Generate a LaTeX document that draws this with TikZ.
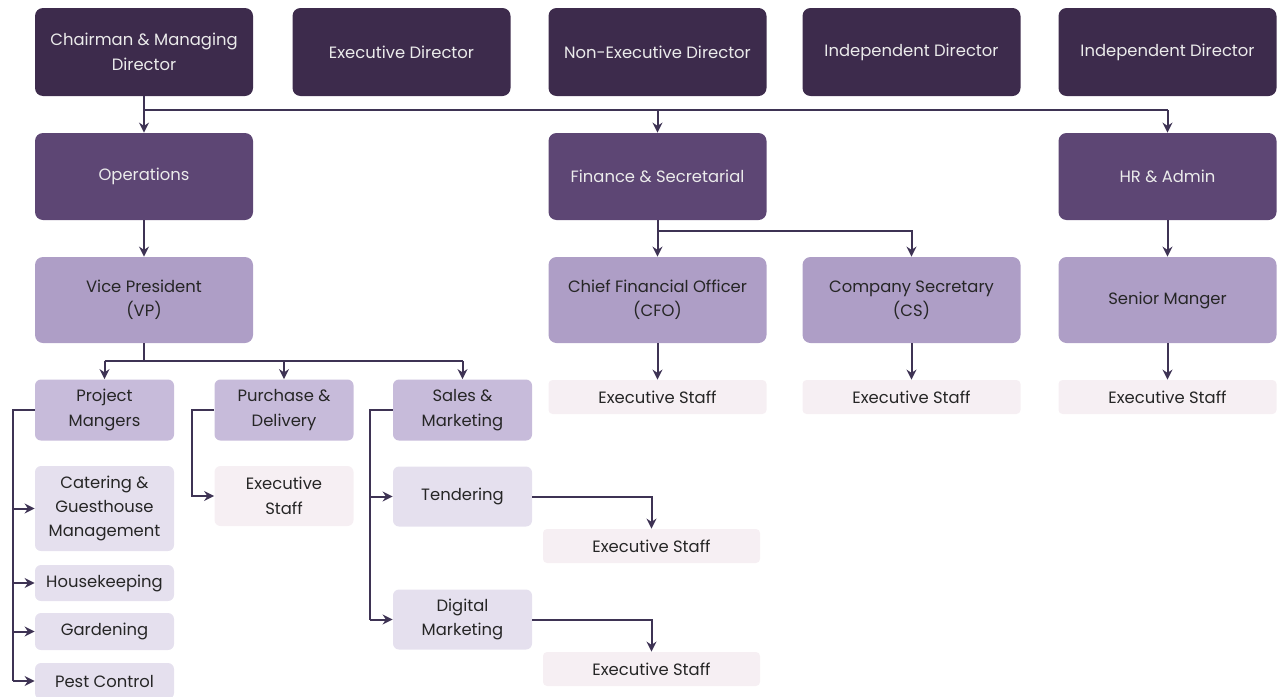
\documentclass[tikz,border=0pt]{standalone}
\usepackage{fontspec}
\setmainfont{Poppins}
\usetikzlibrary{arrows.meta}

\definecolor{board}{HTML}{3D2B4C}
\definecolor{dept}{HTML}{5D4674}
\definecolor{head}{HTML}{AE9EC6}
\definecolor{unit}{HTML}{C7BBDA}
\definecolor{sub}{HTML}{E5E0EE}
\definecolor{staff}{HTML}{F6EFF3}
\definecolor{wire}{HTML}{3E3354}

\begin{document}
\begin{tikzpicture}[
    x=0.5pt, y=-0.5pt,
    box/.style={rectangle, rounded corners=4pt, align=center, inner sep=2pt,
                font=\fontsize{8.2}{12.2}\selectfont, text=black!85},
    top/.style={box, fill=board, text=white!92!black, minimum width=109pt, minimum height=44pt},
    dep/.style={box, fill=dept, text=white!92!black, minimum width=109pt, minimum height=43.5pt},
    mgr/.style={box, fill=head, minimum width=109pt, minimum height=43pt},
    es/.style={box, fill=staff, rounded corners=2pt, minimum width=109pt, minimum height=17pt},
    grp/.style={box, fill=unit, rounded corners=3pt, minimum width=69.5pt, minimum height=30.5pt},
    leaf/.style={box, fill=sub, rounded corners=3pt, minimum width=69.5pt},
    line/.style={draw=wire, line width=1pt},
    arr/.style={line, -{Stealth[length=5pt,width=5pt]}},
  ]
  \useasboundingbox (0,0) rectangle (1277,696);

  % Board
  \node[top] (chair) at (144,52)    {Chairman \& Managing\\Director};
  \node[top] (exec)  at (401.5,52)  {Executive Director};
  \node[top] (nonex) at (657.5,52)  {Non-Executive Director};
  \node[top] (ind1)  at (911.5,52)  {Independent Director};
  \node[top] (ind2)  at (1167.5,52) {Independent Director};

  % Departments
  \node[dep] (ops) at (144,176.5)    {Operations};
  \node[dep] (fin) at (657.5,176.5)  {Finance \& Secretarial};
  \node[dep] (hr)  at (1167.5,176.5) {HR \& Admin};

  \coordinate (bus) at (0,110);
  \draw[line] (chair.south |- bus) -- (hr.north |- bus);
  \draw[arr] (chair) -- (ops);
  \draw[arr] (fin.north |- bus) -- (fin.north);
  \draw[arr] (hr.north |- bus) -- (hr.north);

  % Heads
  \node[mgr] (vp)  at (144,300)    {Vice President\\(VP)};
  \node[mgr] (cfo) at (657.5,300)  {Chief Financial Officer\\(CFO)};
  \node[mgr] (cs)  at (911.5,300)  {Company Secretary\\(CS)};
  \node[mgr] (sm)  at (1167.5,300) {Senior Manger};

  \draw[arr] (ops) -- (vp);
  \draw[arr] (fin) -- (cfo);
  \draw[arr] (fin.south |- 0,231) -| (cs.north);
  \draw[arr] (hr) -- (sm);

  % Executive staff under heads
  \node[es] (cfoes) at (657.5,397)  {Executive Staff};
  \node[es] (cses)  at (911.5,397)  {Executive Staff};
  \node[es] (smes)  at (1167.5,397) {Executive Staff};

  \draw[arr] (cfo) -- (cfoes);
  \draw[arr] (cs) -- (cses);
  \draw[arr] (sm) -- (smes);

  % Operations groups
  \node[grp] (pm)  at (104.5,410) {Project\\Mangers};
  \node[grp] (pd)  at (284,410)   {Purchase \&\\Delivery};
  \node[grp] (sal) at (462.5,410) {Sales \&\\Marketing};

  \coordinate (vpbus) at (0,361);
  \draw[line] (vp.south) -- (vp.south |- vpbus);
  \draw[line] (pm.north |- vpbus) -- (sal.north |- vpbus);
  \draw[arr] (pm.north |- vpbus) -- (pm.north);
  \draw[arr] (pd.north |- vpbus) -- (pd.north);
  \draw[arr] (sal.north |- vpbus) -- (sal.north);

  % Project Mangers
  \node[leaf, minimum height=42.5pt] (cat)  at (104.5,508.5) {Catering \&\\Guesthouse\\Management};
  \node[leaf, minimum height=18pt]   (hk)   at (104.5,583)   {Housekeeping};
  \node[leaf, minimum height=18.5pt] (gard) at (104.5,631.5) {Gardening};
  \node[leaf, minimum height=18pt]   (pest) at (104.5,681)   {Pest Control};

  \coordinate (pmrail) at (13,0);
  \draw[line] (pm.west) -- (pmrail |- pm.west) -- (pmrail |- pest.west);
  \foreach \n in {cat, hk, gard, pest}
    \draw[arr] (pmrail |- \n.west) -- (\n.west);

  % Purchase & Delivery
  \node[leaf, fill=staff, minimum height=30pt] (pdes) at (284,496) {Executive\\Staff};
  \coordinate (pdrail) at (192,0);
  \draw[arr] (pd.west) -- (pdrail |- pd.west) -- (pdrail |- pdes.west) -- (pdes.west);

  % Sales & Marketing
  \node[leaf, minimum height=30pt] (tend) at (462.5,496.5) {Tendering};
  \node[leaf, minimum height=30pt] (dig)  at (462.5,619.5) {Digital\\Marketing};
  \node[es, minimum width=108.5pt] (tenes) at (651.5,546) {Executive Staff};
  \node[es, minimum width=108.5pt] (diges) at (651.5,669) {Executive Staff};

  \coordinate (salrail) at (370,0);
  \draw[line] (sal.west) -- (salrail |- sal.west) -- (salrail |- dig.west);
  \draw[arr] (salrail |- tend.west) -- (tend.west);
  \draw[arr] (salrail |- dig.west) -- (dig.west);
  \draw[arr] (tend.east) -| (tenes.north);
  \draw[arr] (dig.east) -| (diges.north);

\end{tikzpicture}
\end{document}
